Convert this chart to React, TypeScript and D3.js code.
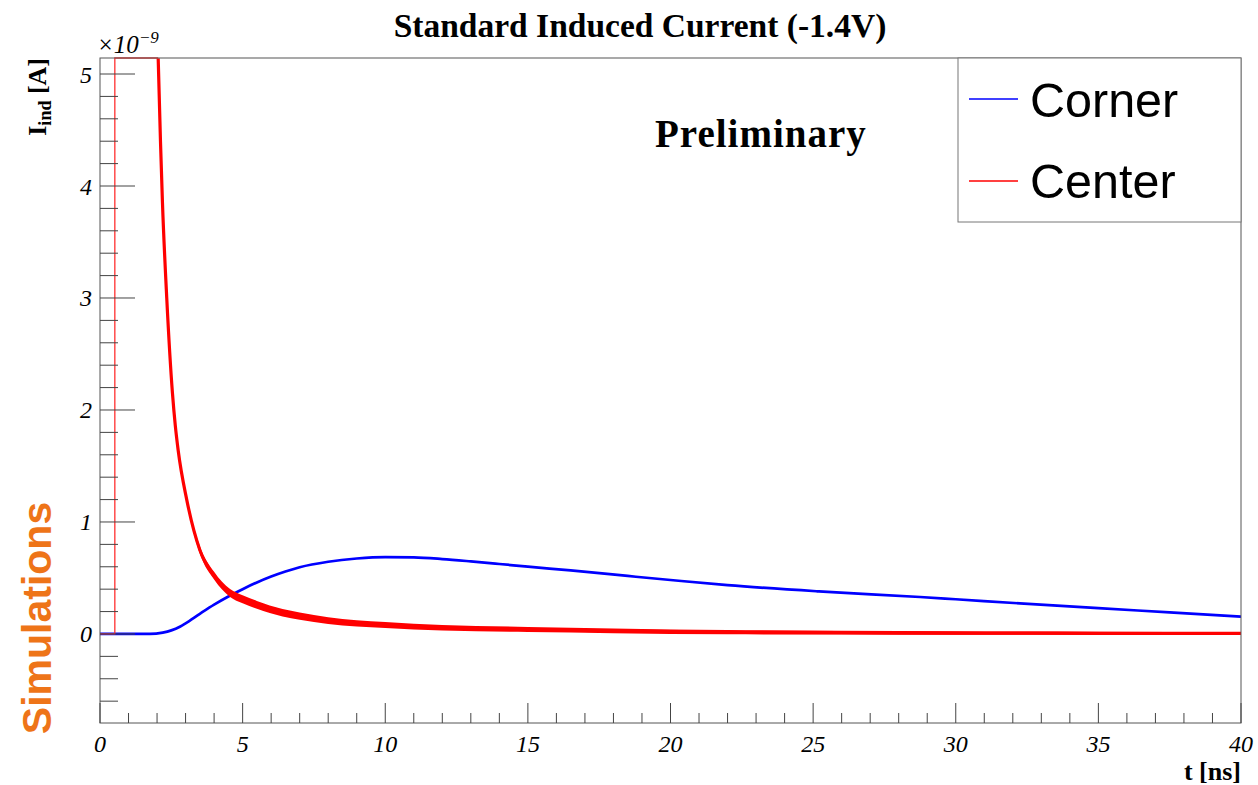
import React from "react";
import * as d3 from "d3";

const W = 1258;
const H = 785;

// Axis ticks
const xTickLabels = [0, 5, 10, 15, 20, 25, 30, 35, 40];
const yTickLabels = [0, 1, 2, 3, 4, 5];

// Corner (blue) – induced current [x1e-9 A] vs t [ns]
const cornerT = [0, 1.75, 2.2, 2.5, 2.8, 3.0, 3.5, 4.0, 4.5, 5.0, 5.5, 6.0, 6.5, 7.0, 8.0, 9.0, 10.0, 11.0, 12.0, 13.0, 14.0, 15.0, 16.5, 18.5, 20.0, 22.0, 25.2, 28.75, 30.0, 32.25, 35.0, 37.5, 40.0];
const cornerV = [0, 0, 0.012, 0.032, 0.065, 0.095, 0.18, 0.262, 0.335, 0.4, 0.46, 0.513, 0.558, 0.596, 0.645, 0.674, 0.687, 0.684, 0.669, 0.648, 0.625, 0.601, 0.567, 0.518, 0.482, 0.436, 0.38, 0.33, 0.31, 0.273, 0.23, 0.193, 0.155];

// Center (red) – off-scale pulse part (clipped at the frame top)
const centerPulseT = [0, 0.52, 0.52, 2.04];
const centerPulseV = [0, 0, 5.2, 5.2];

// Center (red) – decaying tail
const centerT = [2.04, 2.12, 2.19, 2.34, 2.54, 2.64, 2.74, 3.04, 3.5, 4.0, 4.56, 5.0, 5.5, 6.4, 7.0, 8.0, 10.0, 12.0, 15.0, 18.0, 22.0, 26.0, 30.0, 35.0, 40.0];
const centerV = [5.14, 4.4, 3.85, 3.0, 2.15, 1.86, 1.64, 1.2, 0.75, 0.52, 0.366, 0.31, 0.26, 0.19, 0.16, 0.12, 0.08, 0.055, 0.04, 0.028, 0.016, 0.012, 0.008, 0.006, 0.005];

// Visible noise spread (half-width) of the center trace
const centerNoiseT = [2.0, 2.6, 3.5, 5.0, 7.0, 10.0, 20.0, 40.0];
const centerNoise = [0.0, 0.02, 0.034, 0.036, 0.032, 0.026, 0.02, 0.012];

const X0 = 100, X1 = 1241, Y0 = 58, Y1 = 723;
const yMin = -0.795, yMax = 5.143;

export default function App() {
  const x = d3.scaleLinear().domain([0, 40]).range([X0, X1]);
  const y = d3.scaleLinear().domain([yMin, yMax]).range([Y1, Y0]);
  const cy = (v: number) => y(Math.min(v, yMax));

  const corner = cornerT.map((t, i) => ({ t, v: cornerV[i] }));
  const pulse = centerPulseT.map((t, i) => ({ t, v: centerPulseV[i] }));
  const center = centerT.map((t, i) => ({ t, v: centerV[i] }));
  const noise = d3.scaleLinear().domain(centerNoiseT).range(centerNoise).clamp(true);

  const lineMono = d3
    .line<{ t: number; v: number }>()
    .x((d) => x(d.t))
    .y((d) => cy(d.v))
    .curve(d3.curveMonotoneX);
  const lineLin = d3
    .line<{ t: number; v: number }>()
    .x((d) => x(d.t))
    .y((d) => cy(d.v));
  const band = d3
    .area<{ t: number; v: number }>()
    .x((d) => x(d.t))
    .y0((d) => cy(d.v - noise(d.t)))
    .y1((d) => cy(d.v + noise(d.t)))
    .curve(d3.curveMonotoneX);

  const xMinor = d3.range(0, 41, 1);
  const yMinor = d3.range(-8, 26, 1).map((k) => k * 0.2).filter((v) => v >= yMin && v <= yMax);

  const serif = "'Liberation Serif', 'Times New Roman', serif";
  const sans = "'Liberation Sans', Arial, Helvetica, sans-serif";

  return (
    <div style={{ position: "absolute", left: 0, top: 0 }}>
      <svg width={W} height={H} viewBox={`0 0 ${W} ${H}`} style={{ display: "block", background: "#fff" }}>
        <defs>
          <clipPath id="plotClip">
            <rect x={X0} y={Y0 - 1} width={X1 - X0} height={Y1 - Y0 + 1} />
          </clipPath>
        </defs>
        <rect x={0} y={0} width={W} height={H} fill="#fff" />

        {/* Title */}
        <text x={640} y={37} textAnchor="middle" fontFamily={serif} fontWeight="bold" fontSize={33.5} fill="#000">
          Standard Induced Current (-1.4V)
        </text>

        {/* Curves */}
        <g clipPath="url(#plotClip)">
          <path d={lineMono(corner) || ""} fill="none" stroke="#0000ff" strokeWidth={2.7} strokeLinejoin="round" />
          <path d={lineLin(pulse) || ""} fill="none" stroke="#ff3030" strokeWidth={1.3} />
          <path d={band(center) || ""} fill="#ff0000" stroke="none" />
          <path d={lineMono(center) || ""} fill="none" stroke="#ff0000" strokeWidth={3.2} strokeLinejoin="round" />
        </g>

        {/* Frame */}
        <rect x={X0} y={Y0} width={X1 - X0} height={Y1 - Y0} fill="none" stroke="#555" strokeWidth={1} />

        {/* Y ticks */}
        {yMinor.map((v) => {
          const major = Math.abs(v - Math.round(v)) < 1e-6;
          return (
            <line key={"ym" + v} x1={X0} x2={X0 + (major ? 35 : 18)} y1={y(v)} y2={y(v)} stroke="#444" strokeWidth={1} />
          );
        })}
        {yTickLabels.map((v) => (
          <text key={"yl" + v} x={92} y={y(v) + 8.5} textAnchor="end" fontFamily={serif} fontStyle="italic" fontSize={24} fill="#000">
            {v}
          </text>
        ))}

        {/* X ticks */}
        {xMinor.map((t) => {
          const major = t % 5 === 0;
          return (
            <line key={"xm" + t} x1={x(t)} x2={x(t)} y1={Y1} y2={Y1 - (major ? 20 : 10)} stroke="#444" strokeWidth={1} />
          );
        })}
        {xTickLabels.map((t) => (
          <text key={"xl" + t} x={x(t)} y={752} textAnchor="middle" fontFamily={serif} fontStyle="italic" fontSize={24} fill="#000">
            {t}
          </text>
        ))}

        {/* Exponent */}
        <text x={97} y={53} fontFamily={serif} fontStyle="italic" fontSize={25} fill="#000">
          ×10
          <tspan fontSize={17} dy={-10}>−9</tspan>
        </text>

        {/* Axis titles */}
        <text x={1241} y={780} textAnchor="end" fontFamily={serif} fontWeight="bold" fontSize={26} fill="#000">
          t [ns]
        </text>
        <text transform={`translate(46,58) rotate(-90)`} textAnchor="end" fontFamily={serif} fontWeight="bold" fontSize={26} fill="#000">
          I<tspan fontSize={18} dy={5}>ind</tspan>
          <tspan dy={-5}> [A]</tspan>
        </text>

        {/* Preliminary */}
        <text x={655} y={147} fontFamily={serif} fontWeight="bold" fontSize={39} fill="#000" letterSpacing={1}>
          Preliminary
        </text>

        {/* Simulations */}
        <text transform={`translate(51,618) rotate(-90)`} textAnchor="middle" fontFamily={sans} fontWeight="bold" fontSize={41} fill="#ee7418">
          Simulations
        </text>

        {/* Legend */}
        <rect x={958} y={58} width={283} height={164} fill="#fff" stroke="#777" strokeWidth={1} />
        <line x1={969} x2={1018} y1={99} y2={99} stroke="#0000ff" strokeWidth={1.4} />
        <text x={1030} y={117} fontFamily={sans} fontSize={48.5} fill="#000">
          Corner
        </text>
        <line x1={969} x2={1018} y1={181} y2={181} stroke="#ff0000" strokeWidth={1.4} />
        <text x={1030} y={198} fontFamily={sans} fontSize={48.5} fill="#000">
          Center
        </text>
      </svg>
    </div>
  );
}
